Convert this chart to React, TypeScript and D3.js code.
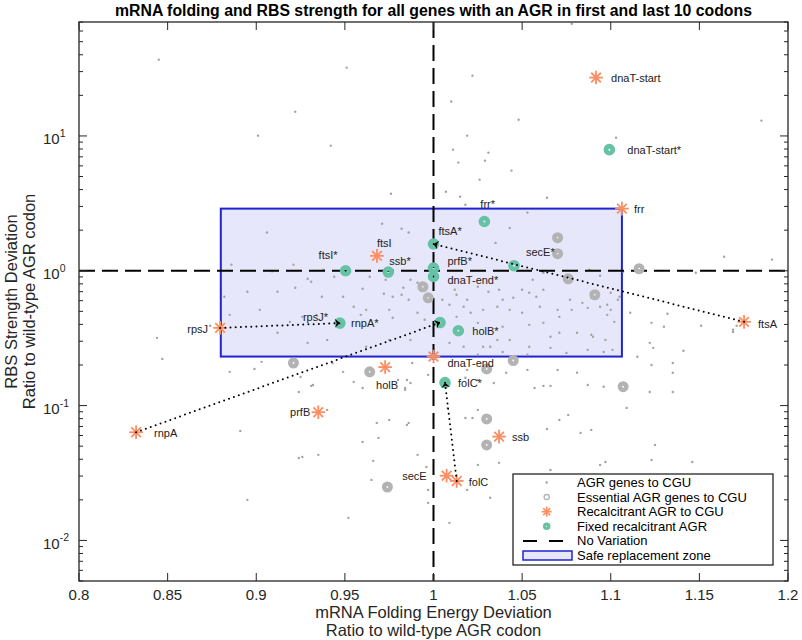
import React from "react";
import * as d3 from "d3";

// ---------------- data ----------------
const xTickValues = [0.8, 0.85, 0.9, 0.95, 1, 1.05, 1.1, 1.15, 1.2];
const xTickLabels = ["0.8", "0.85", "0.9", "0.95", "1", "1.05", "1.1", "1.15", "1.2"];
const yTickValues = [0.01, 0.1, 1, 10];
const yTickExponents = ["-2", "-1", "0", "1"];

// AGR genes to CGU (small dots)
const agrX = [
  0.845, 0.951, 1.022, 1.010, 0.922, 1.048, 1.185, 0.901, 1.019, 1.103, 0.942, 1.011, 1.031, 1.014, 1.029, 1.044,
  1.026, 0.976, 1.007, 1.015, 1.064, 1.018, 1.078, 0.906, 0.971, 0.986, 1.053, 1.043, 1.035, 0.886, 0.909, 0.921,
  0.938, 0.929, 0.931, 0.912, 0.922, 0.882, 0.895, 0.937, 0.960, 0.972, 0.977, 0.982, 0.986, 0.964, 0.973, 0.949,
  0.955, 0.962, 0.975, 0.987, 0.991, 0.983, 0.991, 0.977, 0.902, 0.885, 0.926, 0.934, 0.959, 0.995, 1.005, 1.013,
  1.019, 1.012, 1.009, 1.017, 1.025, 1.031, 1.037, 1.039, 1.045, 1.050, 1.054, 1.062, 1.058, 1.050, 1.043, 1.036,
  1.028, 1.021, 1.013, 1.060, 1.070, 1.077, 1.084, 1.094, 1.100, 1.105, 1.062, 1.056, 1.100, 1.066, 1.071, 1.081,
  1.090, 1.097, 1.101, 1.096, 1.066, 1.054, 1.043, 1.036, 1.028, 1.017, 1.009, 0.987, 0.975, 0.962, 0.940, 0.929,
  0.912, 0.919, 1.054, 1.062, 1.039, 1.025, 0.944, 0.844, 0.847, 0.874, 0.903, 0.899, 0.885, 0.925, 0.924, 0.931,
  0.949, 0.940, 0.891, 0.895, 0.924, 1.164, 1.191, 1.148, 1.132, 1.111, 1.123, 1.130, 1.151, 1.169, 1.171, 1.102,
  1.104, 1.098, 1.094, 1.078, 1.071, 1.088, 1.089, 1.087, 1.098, 1.107, 0.985, 0.987, 0.984, 0.988, 1.025, 1.032,
  1.039, 1.053, 1.075, 1.087, 1.089, 1.115, 1.122, 1.124, 1.141, 1.169, 1.135, 1.135, 1.123, 1.135, 1.122, 1.096,
  1.087, 1.034, 1.041, 1.057, 1.062, 1.066, 1.019, 1.018, 1.025, 1.081, 1.070, 1.053, 1.109, 1.076, 1.089, 1.083,
  1.064, 1.071, 1.018, 1.022, 1.008, 1.025, 1.125, 1.123, 1.146, 1.094, 1.097, 1.066, 1.037, 1.025, 0.991, 0.985,
  0.996, 1.009, 1.032, 1.019, 0.955, 0.960, 0.980, 0.984, 0.997, 0.932, 0.943, 0.968, 0.975, 0.986, 0.969, 0.926,
  0.935, 0.966, 0.997, 0.997, 0.952, 0.965, 0.960, 0.982,
];
const agrY = [
  36.8, 32.1, 28.0, 18.0, 15.1, 13.2, 13.0, 10.05, 10.05, 9.71, 8.47, 7.91, 7.52, 6.34, 6.56, 5.53,
  4.74, 3.73, 3.86, 3.54, 3.48, 3.09, 68, 1.92, 2.23, 1.92, 2.70, 2.08, 1.61, 1.11, 0.99, 1.11,
  1.02, 0.872, 0.829, 0.698, 0.748, 0.641, 0.698, 0.641, 0.735, 0.675, 0.641, 0.664, 0.609, 0.902, 0.857, 0.641,
  0.541, 0.513, 0.513, 0.857, 0.815, 0.748, 0.488, 0.448, 0.513, 0.471, 0.455, 0.471, 0.471, 0.433, 0.609, 0.664,
  0.609, 0.723, 0.559, 0.541, 0.761, 0.698, 0.723, 0.609, 0.630, 0.723, 0.687, 0.723, 0.641, 0.488, 0.513, 0.541,
  0.513, 0.488, 0.455, 0.541, 0.513, 0.609, 0.578, 0.541, 0.513, 0.641, 0.966, 0.857, 0.687, 0.324, 0.347, 0.347,
  0.324, 0.307, 0.259, 0.250, 0.268, 0.273, 0.307, 0.307, 0.273, 0.273, 0.292, 0.307, 0.307, 0.273, 0.307, 0.292,
  0.347, 0.418, 0.397, 0.411, 0.384, 0.411, 0.902, 0.318, 0.222, 0.391, 0.211, 0.187, 0.178, 0.163, 0.126, 0.140,
  0.178, 0.0929, 0.0649, 0.0200, 0.0409, 1.27, 1.21, 0.966, 0.480, 0.488, 0.411, 0.384, 0.391, 0.365, 0.391, 0.418,
  0.609, 0.559, 0.918, 0.513, 0.455, 1.017, 0.630, 0.531, 0.471, 0.983, 0.155, 0.147, 0.131, 0.207, 0.238, 0.273,
  0.250, 0.238, 0.246, 0.259, 0.335, 0.230, 0.292, 0.268, 0.255, 0.352, 0.207, 0.175, 0.200, 0.126, 0.126, 0.138,
  0.142, 0.147, 0.175, 0.135, 0.140, 0.140, 0.184, 0.161, 0.155, 0.175, 0.184, 0.184, 0.0961, 0.0853, 0.0660, 0.0627,
  0.0671, 0.0783, 0.0810, 0.0810, 0.0961, 0.0929, 0.0511, 0.0395, 0.0382, 0.0363, 0.0382, 0.0333, 0.0376, 0.0363, 0.0431, 0.0719,
  0.0351, 0.0135, 0.0207, 0.0237, 0.150, 0.135, 0.155, 0.135, 0.169, 0.142, 0.207, 0.0744, 0.0783, 0.0744, 0.0576, 0.0416,
  0.0431, 0.0389, 0.0237, 0.0190, 0.0147, 0.0281, 0.0538, 2.05,
];

// Essential AGR genes to CGU
const essentialX = [1.070, 1.070, 1.076, 1.091, 1.116, 0.994, 0.997, 1.045, 1.030, 1.107, 1.030, 1.030, 0.974, 0.964, 0.921];
const essentialY = [1.76, 1.34, 0.872, 0.664, 1.035, 0.761, 0.630, 0.216, 0.187, 0.138, 0.0796, 0.0511, 0.0249, 0.178, 0.207];

// Recalcitrant AGR to CGU
const recalcitrantNames = ["dnaT-start", "frr", "ftsA", "ftsI", "rpsJ", "dnaT-end", "holB", "prfB", "rnpA", "ssb", "secE", "folC"];
const recalcitrantX = [1.0917, 1.1063, 1.1752, 0.9681, 0.8796, 1.0, 0.9727, 0.935, 0.8322, 1.037, 1.0074, 1.0131];
const recalcitrantY = [27.1, 2.89, 0.418, 1.29, 0.377, 0.231, 0.193, 0.0893, 0.0634, 0.0589, 0.0302, 0.0276];

// Fixed recalcitrant AGR
const fixedNames = ["dnaT-start*", "frr*", "ftsA*", "secE*", "prfB*", "dnaT-end*", "ftsI*", "ssb*", "rpsJ*", "rnpA*", "holB*", "folC*"];
const fixedX = [1.0992, 1.0287, 1.0, 1.0454, 1.0, 1.0, 0.9504, 0.9745, 0.9472, 1.0037, 1.014, 1.0065];
const fixedY = [7.91, 2.32, 1.58, 1.09, 1.047, 0.907, 1.0, 0.978, 0.409, 0.413, 0.359, 0.148];

// arrows: recalcitrant -> fixed
const arrowFrom = ["rpsJ", "rnpA", "ftsA", "folC"];
const arrowTo = ["rpsJ*", "rnpA*", "ftsA*", "folC*"];

// safe replacement zone
const safeX = [0.88, 1.1063];
const safeY = [0.231, 2.89];

const legendLabels = [
  "AGR genes to CGU",
  "Essential AGR genes to CGU",
  "Recalcitrant AGR to CGU",
  "Fixed recalcitrant AGR",
  "No Variation",
  "Safe replacement zone",
];

// ---------------- style ----------------
const FONT = "'Liberation Sans', Arial, Helvetica, sans-serif";
const ORANGE = "#fc8d62";
const TEAL = "#66c2a5";
const GRAY = "#b3b3b3";
const DOT = "#a3a3a3";
const AXIS = "#262626";

const labelOffsets: Record<string, [number, number, string]> = {
  "dnaT-start": [15, 0, "start"],
  "dnaT-start*": [18, 0, "start"],
  frr: [12, 0, "start"],
  "frr*": [-4, -17, "start"],
  "ftsA*": [5, -13, "start"],
  ftsA: [14, 2, "start"],
  ftsI: [0, -13, "start"],
  "ftsI*": [-27, -16, "start"],
  "ssb*": [1, -11, "start"],
  "prfB*": [14, -7, "start"],
  "dnaT-end*": [14, 4, "start"],
  "secE*": [12, -14, "start"],
  "rpsJ*": [-37, -6, "start"],
  "rnpA*": [-89, 0, "start"],
  "holB*": [14, 0, "start"],
  "dnaT-end": [14, 6, "start"],
  holB: [-9, 18, "start"],
  "folC*": [13, 0, "start"],
  prfB: [-8, 0, "end"],
  rnpA: [18, 1, "start"],
  rpsJ: [-12, 1, "end"],
  ssb: [13, 0, "start"],
  secE: [-20, 0, "end"],
  folC: [12, 1, "start"],
};

const W = 802;
const H = 640;
const L = 79, R = 788, T = 22, B = 581;

const x = d3.scaleLinear().domain([0.8, 1.2]).range([L, R]);
const y = d3.scaleLog().domain([0.005, 70]).range([B, T]);

function Asterisk({ cx, cy, r, sw }: { cx: number; cy: number; r: number; sw: number }) {
  const angles = [0, 45, 90, 135];
  return (
    <g>
      {angles.map((a) => {
        const rad = (a * Math.PI) / 180;
        const dx = Math.cos(rad) * r;
        const dy = Math.sin(rad) * r;
        return <line key={a} x1={cx - dx} y1={cy - dy} x2={cx + dx} y2={cy + dy} stroke={ORANGE} strokeWidth={sw} />;
      })}
    </g>
  );
}

function Arrow({ x1, y1, x2, y2 }: { x1: number; y1: number; x2: number; y2: number }) {
  const ang = Math.atan2(y2 - y1, x2 - x1);
  const len = 5, hw = 4.5, notch = 1.8;
  const ux = Math.cos(ang), uy = Math.sin(ang);
  const px = -uy, py = ux;
  const bx = x2 - ux * len, by = y2 - uy * len;
  const nx = x2 - ux * (len - notch), ny = y2 - uy * (len - notch);
  const d = `M${x2},${y2} L${bx + px * hw},${by + py * hw} L${nx},${ny} L${bx - px * hw},${by - py * hw} Z`;
  return (
    <g>
      <line x1={x1} y1={y1} x2={x2} y2={y2} stroke="#000" strokeWidth={2} strokeDasharray="0 5.2" strokeLinecap="round" />
      <path d={d} fill="#000" />
    </g>
  );
}

export default function App() {
  const yMinor = y.ticks().filter((v) => {
    const lg = Math.log10(v);
    return Math.abs(lg - Math.round(lg)) > 1e-6;
  });
  const findIdx = (arr: string[], n: string) => arr.indexOf(n);

  const legendRowY = [482.5, 497.1, 511.7, 526.3, 540.9, 555.5];
  const lgX = 546.7;

  return (
    <svg width={W} height={H} style={{ position: "absolute", left: 0, top: 0, background: "#fff" }} fontFamily={FONT}>
      <rect x={0} y={0} width={W} height={H} fill="#fff" />
      {/* safe zone */}
      <rect
        x={x(safeX[0])}
        y={y(safeY[1])}
        width={x(safeX[1]) - x(safeX[0])}
        height={y(safeY[0]) - y(safeY[1])}
        fill="#e6e7fa"
        stroke="#1f24d0"
        strokeWidth={2}
      />
      {/* small dots */}
      {agrX.map((v, i) => (
        <circle key={"a" + i} cx={x(v)} cy={y(agrY[i])} r={1.2} fill={DOT} />
      ))}
      {/* no variation lines */}
      <line x1={x(1)} x2={x(1)} y1={T} y2={B} stroke="#000" strokeWidth={2} strokeDasharray="16 7" />
      <line x1={L} x2={R} y1={y(1)} y2={y(1)} stroke="#000" strokeWidth={2} strokeDasharray="16 7" />
      {/* essential */}
      {essentialX.map((v, i) => (
        <circle key={"e" + i} cx={x(v)} cy={y(essentialY[i])} r={3.2} fill="none" stroke={GRAY} strokeWidth={4.6} />
      ))}
      {/* recalcitrant */}
      {recalcitrantX.map((v, i) => (
        <Asterisk key={"r" + i} cx={x(v)} cy={y(recalcitrantY[i])} r={6.8} sw={1.8} />
      ))}
      {/* fixed */}
      {fixedX.map((v, i) => (
        <circle key={"f" + i} cx={x(v)} cy={y(fixedY[i])} r={3.4} fill="none" stroke={TEAL} strokeWidth={4.8} />
      ))}
      {/* arrows */}
      {arrowFrom.map((n, i) => {
        const a = findIdx(recalcitrantNames, n);
        const b = findIdx(fixedNames, arrowTo[i]);
        return (
          <Arrow
            key={"ar" + i}
            x1={x(recalcitrantX[a])}
            y1={y(recalcitrantY[a])}
            x2={x(fixedX[b])}
            y2={y(fixedY[b])}
          />
        );
      })}
      {/* point labels */}
      {recalcitrantNames.map((n, i) => {
        const o = labelOffsets[n];
        return (
          <text key={"rl" + i} x={x(recalcitrantX[i]) + o[0]} y={y(recalcitrantY[i]) + o[1]} fontSize={11} fill="#222"
            textAnchor={o[2]} dominantBaseline="central">{n}</text>
        );
      })}
      {fixedNames.map((n, i) => {
        const o = labelOffsets[n];
        return (
          <text key={"fl" + i} x={x(fixedX[i]) + o[0]} y={y(fixedY[i]) + o[1]} fontSize={11} fill="#222"
            textAnchor={o[2]} dominantBaseline="central">{n}</text>
        );
      })}
      {/* axes box */}
      <rect x={L} y={T} width={R - L} height={B - T} fill="none" stroke={AXIS} strokeWidth={1.3} />
      {xTickValues.map((v, i) => (
        <g key={"xt" + i}>
          <line x1={x(v)} x2={x(v)} y1={B} y2={B - 8} stroke={AXIS} strokeWidth={1} />
          <line x1={x(v)} x2={x(v)} y1={T} y2={T + 8} stroke={AXIS} strokeWidth={1} />
          <text x={x(v)} y={600} fontSize={15} textAnchor="middle" fill={AXIS}>{xTickLabels[i]}</text>
        </g>
      ))}
      {yTickValues.map((v, i) => (
        <g key={"yt" + i}>
          <line x1={L} x2={L + 8} y1={y(v)} y2={y(v)} stroke={AXIS} strokeWidth={1} />
          <line x1={R} x2={R - 8} y1={y(v)} y2={y(v)} stroke={AXIS} strokeWidth={1} />
          <text x={43} y={y(v) + 8.5} fontSize={15} fill={AXIS}>
            10<tspan fontSize={10.5} dy={-7.5}>{yTickExponents[i]}</tspan>
          </text>
        </g>
      ))}
      {yMinor.map((v, i) => (
        <g key={"ym" + i}>
          <line x1={L} x2={L + 4} y1={y(v)} y2={y(v)} stroke={AXIS} strokeWidth={1} />
          <line x1={R} x2={R - 4} y1={y(v)} y2={y(v)} stroke={AXIS} strokeWidth={1} />
        </g>
      ))}
      {/* title and axis labels */}
      <text x={(L + R) / 2} y={16} fontSize={15.8} fontWeight="bold" textAnchor="middle" fill="#000">
        mRNA folding and RBS strength for all genes with an AGR in first and last 10 codons
      </text>
      <text x={(L + R) / 2} y={618} fontSize={16.5} textAnchor="middle" fill={AXIS}>mRNA Folding Energy Deviation</text>
      <text x={(L + R) / 2} y={636} fontSize={16.5} textAnchor="middle" fill={AXIS}>Ratio to wild-type AGR codon</text>
      <text transform={`translate(17,${(T + B) / 2}) rotate(-90)`} fontSize={16.5} textAnchor="middle" fill={AXIS}>RBS Strength Deviation</text>
      <text transform={`translate(35,${(T + B) / 2}) rotate(-90)`} fontSize={16.5} textAnchor="middle" fill={AXIS}>Ratio to wild-type AGR codon</text>
      {/* legend */}
      <g>
        <rect x={513} y={474} width={260} height={91} fill="#fff" stroke={AXIS} strokeWidth={1.3} />
        <circle cx={lgX} cy={legendRowY[0]} r={1.2} fill={DOT} />
        <circle cx={lgX} cy={legendRowY[1]} r={2.6} fill="none" stroke={GRAY} strokeWidth={1.3} />
        <Asterisk cx={lgX} cy={legendRowY[2]} r={5} sw={1.6} />
        <circle cx={lgX} cy={legendRowY[3]} r={2.2} fill="none" stroke={TEAL} strokeWidth={3.2} />
        <line x1={523} x2={563} y1={legendRowY[4]} y2={legendRowY[4]} stroke="#000" strokeWidth={2} strokeDasharray="14 12" />
        <rect x={523} y={legendRowY[5] - 4.5} width={49} height={9} fill="#e6e7fa" stroke="#1f24d0" strokeWidth={1.5} />
        {legendLabels.map((t, i) => (
          <text key={"lg" + i} x={577} y={legendRowY[i]} fontSize={13} dominantBaseline="central" fill="#000">{t}</text>
        ))}
      </g>
    </svg>
  );
}
